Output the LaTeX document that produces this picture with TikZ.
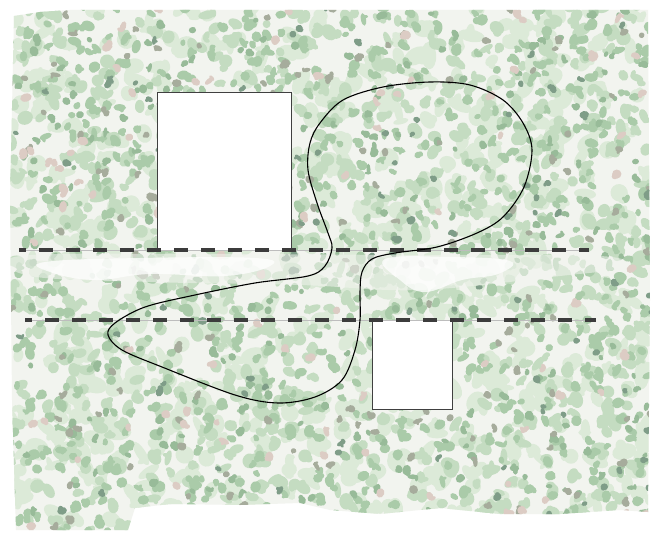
\documentclass[tikz,border=0pt]{standalone}
\usetikzlibrary{positioning}

\definecolor{groundc}{HTML}{F2F4EF}
\definecolor{paleg}{HTML}{DCEAD8}
\definecolor{lightg}{HTML}{C4DCC1}
\definecolor{midg}{HTML}{AACBA9}
\definecolor{darkg}{HTML}{98BB99}
\definecolor{oliveg}{HTML}{A6AC9C}
\definecolor{deepg}{HTML}{7F9D88}
\definecolor{pinkg}{HTML}{DCCCC4}
\definecolor{dashc}{HTML}{3C3C3C}
\definecolor{guidec}{HTML}{BDBDBD}

% count, colour, x radius min, x radius range, y radius min, y radius range
\newcommand{\blobfield}[6]{%
  \foreach \i in {1,...,#1}{%
    \pgfmathsetmacro{\bx}{8+644*rnd}%
    \pgfmathsetmacro{\by}{6+526*rnd}%
    \pgfmathsetmacro{\ra}{#3+#4*rnd}%
    \pgfmathsetmacro{\rb}{#5+#6*rnd}%
    \pgfmathsetmacro{\rt}{180*rnd}%
    \pgfmathsetmacro{\dx}{\ra*(rnd-0.5)*1.6}%
    \pgfmathsetmacro{\dy}{\rb*(rnd-0.5)*1.6}%
    \fill[#2, rotate around={\rt:(\bx,\by)}] (\bx,\by) ellipse [x radius=\ra, y radius=\rb]
      (\bx+\dx,\by+\dy) ellipse [x radius=0.7*\rb, y radius=0.6*\ra];
  }}

\begin{document}
\begin{tikzpicture}[
  wallbox/.style  = {draw=black!75, fill=white, line width=0.9pt},
  guideline/.style= {draw=guidec, line width=0.7pt},
  cutline/.style  = {draw=dashc, line width=3.6pt, dash pattern=on 13.5pt off 13.5pt, dash phase=7pt},
  loopline/.style = {draw=black, line width=1.1pt},
  x=1pt, y=-1pt,
]

  \useasboundingbox (0,0) rectangle (656,534);
  \fill[white] (0,0) rectangle (656,534);

  % ground with ragged rim
  \begin{scope}
    \clip (14,16) -- (40,12) -- (70,10) -- (648,10) -- (650,300) -- (648,512) -- (620,510)
      -- (560,514) -- (500,514) -- (440,508) -- (380,514) -- (330,510) -- (300,503)
      -- (240,505) -- (170,504) -- (135,508) -- (128,530) -- (16,530) -- (12,400) -- (10,200) -- cycle;
    \fill[groundc] (0,0) rectangle (656,534);
    \pgfmathsetseed{4711}
    \blobfield{650}{paleg}{6}{8}{4}{5}
    \blobfield{850}{lightg}{4}{5}{3}{4}
    \blobfield{760}{midg}{3}{4}{2.5}{3}
    \blobfield{280}{darkg}{2.5}{3}{2}{2.5}
    \blobfield{170}{oliveg}{2.5}{3}{2}{2.5}
    \blobfield{100}{deepg}{2.5}{2.5}{2}{2}
    \blobfield{100}{pinkg}{3}{3}{2.5}{2.5}
    % thinned band between the cut lines
    \fill[groundc, opacity=0.55] plot[smooth cycle, tension=0.6] coordinates
      {(20,256) (200,254) (400,255) (600,256) (620,268) (560,276) (420,290) (300,285) (150,282) (30,276)};
    \fill[white, opacity=0.75] plot[smooth cycle, tension=0.7] coordinates
      {(45,262) (140,258) (255,258) (270,266) (225,276) (150,274) (95,280) (50,272)};
    \fill[white, opacity=0.75] plot[smooth cycle, tension=0.7] coordinates
      {(385,259) (450,257) (510,261) (498,274) (462,280) (425,292) (400,280)};
  \end{scope}

  % openings
  \fill[white] (157,92) rectangle (291,250);
  \draw[wallbox] (157,250) -- (157,92) -- (291,92) -- (291,250);
  \draw[wallbox] (372,320) rectangle (452,409);

  % cut lines
  \draw[guideline] (19,250) -- (589,250);
  \draw[cutline]   (19,250) -- (589,250);
  \draw[guideline] (25,320) -- (596,320);
  \draw[cutline]   (25,320) -- (596,320);

  % closed boundary
  \draw[loopline] plot[smooth cycle, tension=0.55] coordinates {
    (430,82) (470,85) (503,100) (523,123) (532,150) (524,187) (503,217) (477,233)
    (437,247) (395,253) (372,259) (362,272) (360,292) (360,320) (355,350) (342,380)
    (315,397) (278,403) (235,395) (162,367) (122,350) (108,335) (115,323) (145,307)
    (195,295) (255,283) (308,276) (325,266) (332,248) (328,233) (317,203) (308,170)
    (310,143) (320,123) (343,100) (383,87)};

\end{tikzpicture}
\end{document}
